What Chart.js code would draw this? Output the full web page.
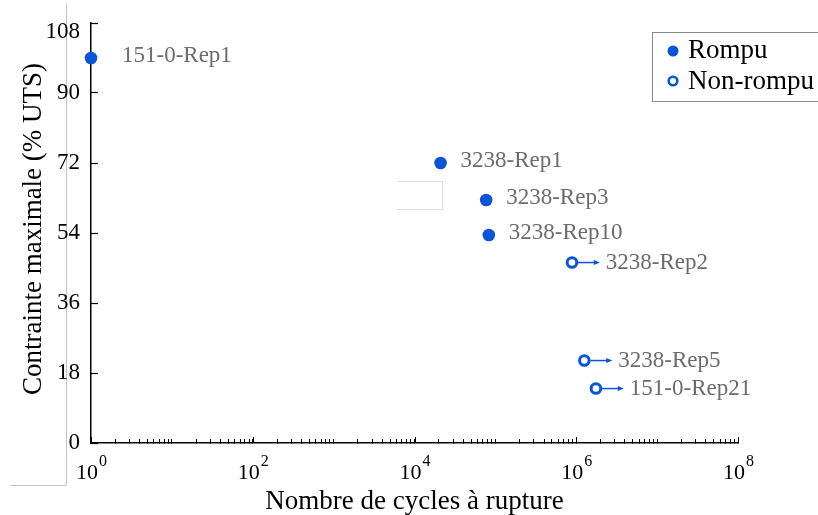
<!DOCTYPE html>
<html>
<head>
<meta charset="utf-8">
<script src="https://cdn.jsdelivr.net/npm/chart.js@4.4.1/dist/chart.umd.min.js"></script>
<style>
  html, body { margin: 0; padding: 0; background: #fff; }
  #wrap { position: relative; width: 818px; height: 515px; }
  #chartSN { position: absolute; left: 0; top: 0; }
  .edge-v { position: absolute; left: 66px; top: 4px; width: 0; height: 481px; border-left: 1px solid #c4c4c4; }
  .edge-h { position: absolute; left: 10px; top: 485px; width: 56px; height: 0; border-top: 1px solid #c4c4c4; }
  .ghost { position: absolute; left: 397px; top: 181px; width: 45px; height: 27px; border: 1px solid #dcdcdc; border-left: none; }
</style>
</head>
<body>
<div id="wrap">
  <div class="edge-v"></div>
  <div class="edge-h"></div>
  <div class="ghost"></div>
  <canvas id="chartSN" width="818" height="515"></canvas>
</div>
<script>
// broken specimens
var rompuNames = ["151-0-Rep1", "3238-Rep1", "3238-Rep3", "3238-Rep10"];
var rompuCycles = [1, 21000, 77000, 83000];
var rompuStress = [99, 72, 62.5, 53.5];

// run-outs (not broken)
var nonRompuNames = ["3238-Rep2", "3238-Rep5", "151-0-Rep21"];
var nonRompuCycles = [885000, 1260000, 1750000];
var nonRompuStress = [46.4, 21.2, 14];

var yTicks = [0, 18, 36, 54, 72, 90, 108];
var xMajorExps = [0, 2, 4, 6, 8];
var legendLabels = ["Rompu", "Non-rompu"];
var xTitle = "Nombre de cycles à rupture";
var yTitle = "Contrainte maximale (% UTS)";

var blue = "#0a55d6";
var serif = "'Liberation Serif', 'DejaVu Serif', serif";

function toPoints(xs, ys) {
  return xs.map(function (x, i) { return { x: x, y: ys[i] }; });
}

// labels, arrows, titles, legend, tick labels
var decorPlugin = {
  id: "decor",
  afterDatasetsDraw: function (chart) {
    var ctx = chart.ctx;
    var xs = chart.scales.x, ys = chart.scales.y;
    ctx.save();

    // point labels
    ctx.font = "23px " + serif;
    ctx.fillStyle = "#6b6b6b";
    ctx.textBaseline = "middle";
    ctx.textAlign = "left";
    chart.getDatasetMeta(0).data.forEach(function (pt, i) {
      ctx.fillText(rompuNames[i], pt.x + (i === 0 ? 31 : 20), pt.y - 2);
    });
    chart.getDatasetMeta(1).data.forEach(function (pt, i) {
      // arrow towards more cycles
      var xEnd = xs.getPixelForValue(nonRompuCycles[i] * Math.pow(10, 0.345));
      ctx.strokeStyle = blue;
      ctx.fillStyle = blue;
      ctx.lineWidth = 1.5;
      ctx.beginPath();
      ctx.moveTo(pt.x + 6, pt.y);
      ctx.lineTo(xEnd - 4, pt.y);
      ctx.stroke();
      ctx.beginPath();
      ctx.moveTo(xEnd, pt.y);
      ctx.lineTo(xEnd - 6, pt.y - 2.5);
      ctx.lineTo(xEnd - 6, pt.y + 2.5);
      ctx.closePath();
      ctx.fill();
      ctx.fillStyle = "#6b6b6b";
      ctx.fillText(nonRompuNames[i], xEnd + 6, pt.y);
    });

    // y tick labels
    ctx.fillStyle = "#000";
    ctx.font = "23px " + serif;
    ctx.textAlign = "right";
    ctx.textBaseline = "middle";
    yTicks.forEach(function (v) {
      var py = Math.max(ys.getPixelForValue(v), ys.top + 9);
      ctx.fillText(String(v), ys.right - 11, py);
    });

    // x tick labels 10^n
    ctx.textAlign = "left";
    ctx.textBaseline = "alphabetic";
    xMajorExps.forEach(function (e) {
      var px = xs.getPixelForValue(Math.pow(10, e));
      ctx.font = "22px " + serif;
      var w1 = ctx.measureText("10").width;
      ctx.font = "16px " + serif;
      var w2 = ctx.measureText(String(e)).width;
      var x0 = px - (w1 + w2) / 2;
      ctx.font = "22px " + serif;
      ctx.fillText("10", x0, xs.top + 36);
      ctx.font = "16px " + serif;
      ctx.fillText(String(e), x0 + w1 + 1, xs.top + 23);
    });

    // major x ticks a bit longer
    ctx.strokeStyle = "#000";
    ctx.lineWidth = 1;
    xMajorExps.forEach(function (e) {
      var px = Math.round(xs.getPixelForValue(Math.pow(10, e))) + 0.5;
      ctx.beginPath();
      ctx.moveTo(px, xs.top);
      ctx.lineTo(px, xs.top - 6);
      ctx.stroke();
    });

    // axis titles
    ctx.fillStyle = "#000";
    ctx.textAlign = "center";
    ctx.font = "27px " + serif;
    ctx.fillText(xTitle, (xs.left + xs.right) / 2, 509);
    ctx.translate(41, 229);
    ctx.rotate(-Math.PI / 2);
    ctx.font = "27px " + serif;
    ctx.fillText(yTitle, 0, 0);
    ctx.restore();

    // legend
    ctx.save();
    ctx.strokeStyle = "#8a8a8a";
    ctx.lineWidth = 1;
    ctx.strokeRect(652.5, 32.5, 200, 69);
    ctx.beginPath();
    ctx.arc(673, 51, 5.5, 0, Math.PI * 2);
    ctx.fillStyle = blue;
    ctx.fill();
    ctx.beginPath();
    ctx.arc(673, 81, 4.3, 0, Math.PI * 2);
    ctx.fillStyle = "#fff";
    ctx.fill();
    ctx.lineWidth = 2.6;
    ctx.strokeStyle = blue;
    ctx.stroke();
    ctx.font = "27px " + serif;
    ctx.fillStyle = "#000";
    ctx.textAlign = "left";
    ctx.textBaseline = "alphabetic";
    ctx.fillText(legendLabels[0], 688, 58);
    ctx.fillText(legendLabels[1], 688, 89);
    ctx.restore();
  }
};

var ctx = document.getElementById("chartSN").getContext("2d");
window.snChart = new Chart(ctx, {
  type: "scatter",
  data: {
    datasets: [
      {
        label: legendLabels[0],
        data: toPoints(rompuCycles, rompuStress),
        backgroundColor: blue,
        borderColor: blue,
        borderWidth: 0,
        pointRadius: 6.3,
        clip: false,
      },
      {
        label: legendLabels[1],
        data: toPoints(nonRompuCycles, nonRompuStress),
        backgroundColor: "#fff",
        borderColor: blue,
        borderWidth: 3,
        pointRadius: 4.8,
        clip: false,
      },
    ],
  },
  options: {
    responsive: false,
    animation: false,
    layout: { padding: { left: 0, top: 23, right: 80, bottom: 0 } },
    plugins: { legend: { display: false }, tooltip: { enabled: false } },
    scales: {
      x: {
        type: "logarithmic",
        min: 1,
        max: 1e8,
        afterBuildTicks: function (scale) {
          var t = [];
          for (var e = 0; e < 8; e++) {
            for (var m = 1; m < 10; m++) t.push({ value: m * Math.pow(10, e) });
          }
          t.push({ value: 1e8 });
          scale.ticks = t;
        },
        afterFit: function (scale) { scale.height = 72; },
        ticks: { display: false },
        grid: { drawOnChartArea: false, drawTicks: true, tickLength: -4, tickColor: "#000", tickWidth: 1 },
        border: { display: true, color: "#000", width: 1.5 },
      },
      y: {
        min: 0,
        max: 108,
        afterBuildTicks: function (scale) {
          scale.ticks = yTicks.map(function (v) { return { value: v }; });
        },
        afterFit: function (scale) { scale.width = 91; },
        ticks: { display: false },
        grid: { drawOnChartArea: false, drawTicks: true, tickLength: -7, tickColor: "#000", tickWidth: 1.2 },
        border: { display: true, color: "#000", width: 1.5 },
      },
    },
  },
  plugins: [decorPlugin],
});
</script>
</body>
</html>
